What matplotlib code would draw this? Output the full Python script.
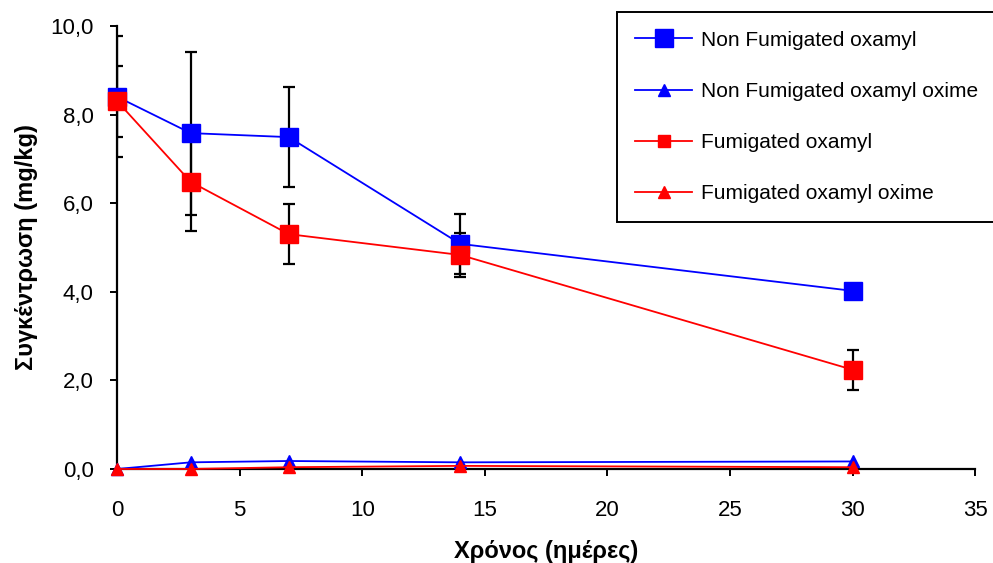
import matplotlib
matplotlib.use('Agg')
import matplotlib.pyplot as plt
from matplotlib.ticker import FuncFormatter, MultipleLocator

plt.rcParams['font.family'] = ['Liberation Sans', 'DejaVu Sans']

# days after treatment
days = [0, 3, 7, 14, 30]

# concentrations (mg/kg)
nonfum_oxamyl = [8.40, 7.58, 7.49, 5.08, 4.02]
nonfum_oxamyl_err = [1.37, 1.84, 1.12, 0.68, 0.0]
nonfum_oxime = [0.0, 0.15, 0.18, 0.15, 0.17]

fum_oxamyl = [8.30, 6.48, 5.30, 4.83, 2.24]
fum_oxamyl_err = [0.80, 1.12, 0.67, 0.49, 0.45]
fum_oxime = [0.0, 0.0, 0.04, 0.07, 0.04]

labels = ['Non Fumigated oxamyl', 'Non Fumigated oxamyl oxime',
          'Fumigated oxamyl', 'Fumigated oxamyl oxime']

fig = plt.figure(figsize=(9.93, 5.63), dpi=100)
ax = fig.add_axes([0.118, 0.167, 0.864, 0.787])

err_kw = dict(fmt='none', ecolor='black', elinewidth=1.6, capsize=4.5,
              capthick=1.6, zorder=2)
ax.errorbar(days, nonfum_oxamyl, yerr=nonfum_oxamyl_err, **err_kw)
ax.errorbar(days, fum_oxamyl, yerr=fum_oxamyl_err, **err_kw)

ax.plot(days, nonfum_oxamyl, color='blue', lw=1.3, marker='s', ms=13,
        mec='blue', label=labels[0], zorder=3, clip_on=False)
ax.plot(days, nonfum_oxime, color='blue', lw=1.3, marker='^', ms=8,
        label=labels[1], zorder=3, clip_on=False)
ax.plot(days, fum_oxamyl, color='red', lw=1.3, marker='s', ms=13.5,
        mec='red', label=labels[2], zorder=4, clip_on=False)
ax.plot(days, fum_oxime, color='red', lw=1.3, marker='^', ms=8,
        label=labels[3], zorder=4, clip_on=False)

ax.set_xlim(0, 35)
ax.set_ylim(0, 10)
ax.xaxis.set_major_locator(MultipleLocator(5))
ax.yaxis.set_major_locator(MultipleLocator(2))
ax.yaxis.set_major_formatter(FuncFormatter(lambda v, p: f'{v:.1f}'.replace('.', ',')))

for side in ('top', 'right'):
    ax.spines[side].set_visible(False)
for side in ('left', 'bottom'):
    ax.spines[side].set_linewidth(1.6)
ax.tick_params(labelsize=16, width=1.4, length=5)
ax.tick_params(axis='x', pad=17)
ax.tick_params(axis='y', pad=12)

ax.set_xlabel('Χρόνος (ημέρες)', fontsize=17, fontweight='bold', labelpad=14)
ax.set_ylabel('Συγκέντρωση (mg/kg)', fontsize=17, fontweight='bold', labelpad=9)

handles, lbls = ax.get_legend_handles_labels()
leg = fig.legend(handles, lbls, loc='upper right',
                 bbox_to_anchor=(1.004, 0.979), fontsize=15,
                 labelspacing=1.55, handlelength=2.7, handletextpad=0.45,
                 borderpad=0.9, fancybox=False, framealpha=1,
                 edgecolor='black', borderaxespad=0)
leg.get_frame().set_linewidth(1.4)
legend_ms = [13, 8, 8, 8]
for h, m in zip(leg.legend_handles, legend_ms):
    h.set_markersize(m)

fig.savefig('out.png', dpi=100)
